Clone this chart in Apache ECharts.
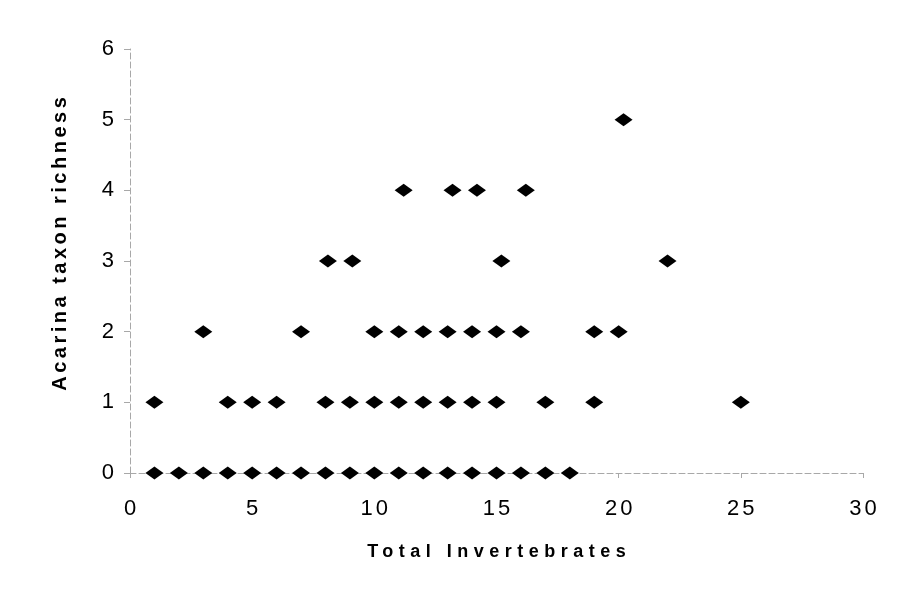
<!DOCTYPE html>
<html>
<head>
<meta charset="utf-8">
<script src="https://cdn.jsdelivr.net/npm/echarts@6/dist/echarts.min.js"></script>
<style>html,body{margin:0;padding:0;background:#fff;}#c{width:905px;height:600px;}</style>
</head>
<body>
<div id="c"></div>
<script>
// Data
const totalInvertebrates = [
  1,2,3,4,5,6,7,8,9,10,11,12,13,14,15,16,17,18,
  1,4,5,6,8,9,10,11,12,13,14,15,17,19,25,
  3,7,10,11,12,13,14,15,16,19,20,
  8.1,9.1,15.2,22,
  11.2,13.2,14.2,16.2,
  20.2
];
const acarinaRichness = [
  0,0,0,0,0,0,0,0,0,0,0,0,0,0,0,0,0,0,
  1,1,1,1,1,1,1,1,1,1,1,1,1,1,1,
  2,2,2,2,2,2,2,2,2,2,2,
  3,3,3,3,
  4,4,4,4,
  5
];
const xTicks = [0,5,10,15,20,25,30];
const yTicks = [0,1,2,3,4,5,6];
const xTitle = 'Total Invertebrates';
const yTitle = 'Acarina taxon richness';

// letter spacing (the scanned original text is widely spaced)
const LS = {};
LS[xTitle] = 5.5;
LS[yTitle] = 3.5;
const DEFAULT_LS = 3;
(function(){
  const P = CanvasRenderingContext2D.prototype;
  const orig = P.fillText;
  if (!('letterSpacing' in P)) return;
  P.fillText = function(t, x, y, m){
    const ls = (LS[t] !== undefined) ? LS[t] : DEFAULT_LS;
    const f = this.font;
    this.letterSpacing = ls + 'px';
    this.font = f;
    let dx = 0;
    if (this.textAlign === 'center') dx = ls / 2;
    else if (this.textAlign === 'right' || this.textAlign === 'end') dx = ls;
    if (m === undefined) orig.call(this, t, x + dx, y); else orig.call(this, t, x + dx, y, m);
    this.letterSpacing = '0px';
    this.font = f;
  };
})();

const points = totalInvertebrates.map((v, i) => [v, acarinaRichness[i]]);

const chart = echarts.init(document.getElementById('c'), null, {renderer: 'canvas'});
const font = '"Liberation Sans", Arial, sans-serif';
chart.setOption({
  animation: false,
  backgroundColor: '#fff',
  grid: {left: 130, right: 42, top: 49, bottom: 127, containLabel: false},
  xAxis: {
    type: 'value', min: xTicks[0], max: xTicks[xTicks.length-1], interval: 5,
    name: xTitle, nameLocation: 'middle', nameGap: 70,
    nameTextStyle: {fontFamily: font, fontSize: 18, fontWeight: 'bold', color: '#000'},
    axisLine: {show: true, lineStyle: {color: '#a8a8a8', width: 1, type: [6, 3]}},
    axisTick: {show: true, length: 5, lineStyle: {color: '#a8a8a8'}},
    axisLabel: {fontFamily: font, fontSize: 22, color: '#000', margin: 25},
    splitLine: {show: false}
  },
  yAxis: {
    type: 'value', min: yTicks[0], max: yTicks[yTicks.length-1], interval: 1,
    name: yTitle, nameLocation: 'middle', nameGap: 60, nameRotate: 90,
    nameTextStyle: {fontFamily: font, fontSize: 20, fontWeight: 'bold', color: '#000', padding: [0, 0, 0, 34]},
    axisLine: {show: true, lineStyle: {color: '#a8a8a8', width: 1, type: [6, 3]}},
    axisTick: {show: true, length: 6, lineStyle: {color: '#a8a8a8'}},
    axisLabel: {fontFamily: font, fontSize: 22, color: '#000', margin: 16},
    splitLine: {show: false}
  },
  series: [{
    type: 'scatter',
    data: points,
    symbol: 'diamond',
    symbolSize: [18, 13],
    itemStyle: {color: '#000', opacity: 1}
  }]
});
</script>
</body>
</html>
